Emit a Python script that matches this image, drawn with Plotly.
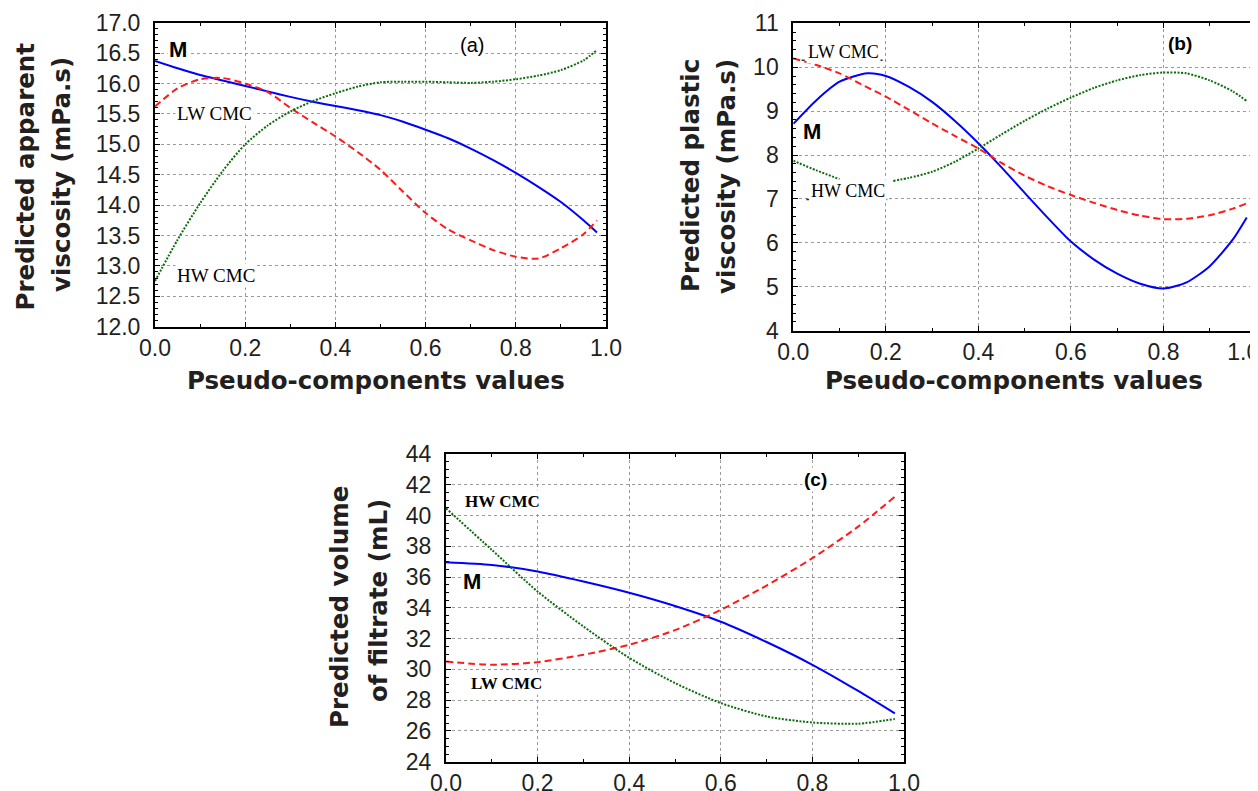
import plotly.graph_objects as go

# page is 1258x791; the browser body adds an 8px margin around the figure div
PAGE_W, PAGE_H = 1258, 791
OFF = 8
W, H = PAGE_W - OFF, PAGE_H - OFF

# ---------------- data ----------------
# Panel (a): predicted apparent viscosity (mPa.s)
a_x = [0.0, 0.05, 0.1, 0.15, 0.2, 0.25, 0.3, 0.35, 0.4, 0.45, 0.5, 0.55, 0.6, 0.65, 0.7, 0.75, 0.8, 0.85, 0.9, 0.95, 0.98]
a_M = [16.37, 16.25, 16.14, 16.05, 15.96, 15.87, 15.78, 15.70, 15.63, 15.56, 15.48, 15.37, 15.24, 15.10, 14.93, 14.74, 14.53, 14.30, 14.05, 13.75, 13.55]
a_LW = [15.62, 15.92, 16.07, 16.09, 16.00, 15.86, 15.60, 15.36, 15.13, 14.87, 14.58, 14.22, 13.87, 13.60, 13.42, 13.26, 13.15, 13.12, 13.29, 13.52, 13.75]
a_HW = [12.75, 13.43, 14.03, 14.56, 15.00, 15.31, 15.54, 15.71, 15.84, 15.95, 16.02, 16.03, 16.03, 16.02, 16.01, 16.03, 16.07, 16.13, 16.22, 16.38, 16.55]

# Panel (b): predicted plastic viscosity (mPa.s)
b_x = [0.0, 0.05, 0.1, 0.16, 0.2, 0.25, 0.3, 0.35, 0.4, 0.45, 0.5, 0.55, 0.6, 0.65, 0.7, 0.75, 0.8, 0.85, 0.9, 0.95, 0.98]
b_M = [8.71, 9.25, 9.67, 9.86, 9.80, 9.55, 9.21, 8.77, 8.27, 7.72, 7.14, 6.57, 6.03, 5.62, 5.30, 5.07, 4.96, 5.10, 5.47, 6.08, 6.58]
b_LW = [10.20, 10.05, 9.86, 9.54, 9.33, 9.03, 8.72, 8.43, 8.15, 7.82, 7.53, 7.29, 7.09, 6.91, 6.75, 6.62, 6.54, 6.55, 6.63, 6.78, 6.90]
b_HW_x = [0.0, 0.05, 0.1, 0.15, 0.216, 0.25, 0.3, 0.35, 0.4, 0.45, 0.5, 0.55, 0.6, 0.65, 0.7, 0.75, 0.8, 0.85, 0.9, 0.95, 0.98]
b_HW = [7.87, 7.65, 7.45, None, 7.41, 7.48, 7.62, 7.85, 8.15, 8.47, 8.78, 9.06, 9.31, 9.53, 9.70, 9.82, 9.88, 9.86, 9.70, 9.45, 9.23]

# Panel (c): predicted volume of filtrate (mL)
c_x = [0.0, 0.1, 0.2, 0.3, 0.4, 0.5, 0.6, 0.7, 0.8, 0.9, 0.98]
c_M = [36.97, 36.79, 36.36, 35.71, 34.98, 34.12, 33.10, 31.78, 30.30, 28.60, 27.14]
c_LW = [30.51, 30.30, 30.47, 30.95, 31.60, 32.55, 33.87, 35.45, 37.23, 39.28, 41.23]
c_HW = [40.47, 37.77, 35.06, 32.79, 30.75, 29.11, 27.81, 26.94, 26.55, 26.47, 26.77]

x_tickvals = [0.0, 0.2, 0.4, 0.6, 0.8, 1.0]
x_ticktext = ["0.0", "0.2", "0.4", "0.6", "0.8", "1.0"]
x_title = "Pseudo-components values"
y_titles = {
    "a": ["Predicted apparent", "viscosity (mPa.s)"],
    "b": ["Predicted plastic", "viscosity (mPa.s)"],
    "c": ["Predicted volume", "of filtrate (mL)"],
}
panel_tags = ["(a)", "(b)", "(c)"]

# ---------------- styles ----------------
BLUE = "#0000ff"
RED = "#ff1a1a"
GREEN = "#0b6e0b"
TXT = "#231f20"
TICKFONT = dict(family="Liberation Sans, Arial, sans-serif", size=23, color=TXT)
TITLEFONT = dict(family="DejaVu Sans, sans-serif", size=24.5, color=TXT)
SERIF = "Liberation Serif, Times New Roman, serif"
SANS = "Liberation Sans, Arial, sans-serif"
NB = "\u00a0"


def px2x(p):
    return (p - OFF) / W


def py2y(p):
    return 1 - (p - OFF) / H


fig = go.Figure()


def add_lines(xs, ys_m, ys_lw, ys_hw, xa, ya, hw_x=None):
    fig.add_trace(go.Scatter(x=xs, y=ys_m, mode="lines",
                             line=dict(color=BLUE, width=2, shape="spline", smoothing=0.7),
                             xaxis=xa, yaxis=ya, showlegend=False, hoverinfo="skip"))
    fig.add_trace(go.Scatter(x=xs, y=ys_lw, mode="lines",
                             line=dict(color=RED, width=2, dash="7px,4px", shape="spline", smoothing=0.7),
                             xaxis=xa, yaxis=ya, showlegend=False, hoverinfo="skip"))
    fig.add_trace(go.Scatter(x=hw_x if hw_x is not None else xs, y=ys_hw, mode="lines",
                             line=dict(color=GREEN, width=2, dash="2px,1.5px", shape="spline", smoothing=0.7),
                             connectgaps=False,
                             xaxis=xa, yaxis=ya, showlegend=False, hoverinfo="skip"))


add_lines(a_x, a_M, a_LW, a_HW, "x", "y")
add_lines(b_x, b_M, b_LW, b_HW, "x2", "y2", hw_x=b_HW_x)
add_lines(c_x, c_M, c_LW, c_HW, "x3", "y3")

# plot-area boxes in page pixels (left, right, top, bottom)
boxes = {
    "a": (155, 606, 22.7, 326.7),
    "b": (793.3, 1256, 23.3, 330.7),
    "c": (446, 904, 454, 761.7),
}


def xaxis_cfg(box, anchor, ticktext):
    l, r, t, b = box
    return dict(domain=[px2x(l), px2x(r)], range=[0, 1], anchor=anchor,
                tickmode="array", tickvals=x_tickvals, ticktext=ticktext,
                ticks="inside", ticklen=5, tickcolor="black", tickwidth=1,
                minor=dict(dtick=0.1, tick0=0, ticks="inside", ticklen=3, tickcolor="black", showgrid=False),
                showline=True, linecolor="black", linewidth=2, mirror="allticks",
                showgrid=True, gridcolor="#9a9a9a", griddash="dot", gridwidth=1,
                zeroline=False, tickfont=TICKFONT, ticklabelstandoff=0, automargin=False,
                ticklabeloverflow="allow", fixedrange=True)


def yaxis_cfg(box, anchor, rng, dt, fmt, mdt):
    l, r, t, b = box
    return dict(domain=[py2y(b), py2y(t)], range=rng, anchor=anchor, dtick=dt, tick0=rng[0],
                tickformat=fmt, ticks="inside", ticklen=5, tickcolor="black", tickwidth=1,
                minor=dict(dtick=mdt, ticks="inside", ticklen=3, tickcolor="black", showgrid=False),
                showline=True, linecolor="black", linewidth=2, mirror="allticks",
                showgrid=True, gridcolor="#9a9a9a", griddash="dot", gridwidth=1,
                zeroline=False, tickfont=TICKFONT, ticklabelstandoff=8, automargin=False,
                ticklabeloverflow="allow", fixedrange=True)


b_ticktext = x_ticktext[:-1] + [x_ticktext[-1] + NB * 4]

fig.update_layout(
    width=W, height=H, autosize=False,
    margin=dict(l=0, r=0, t=0, b=0, pad=0, autoexpand=False),
    paper_bgcolor="white", plot_bgcolor="white",
    font=dict(family=SANS, color=TXT),
    xaxis=xaxis_cfg(boxes["a"], "y", x_ticktext),
    yaxis=yaxis_cfg(boxes["a"], "x", [12, 17], 0.5, ".1f", 0.1),
    xaxis2=xaxis_cfg(boxes["b"], "y2", b_ticktext),
    yaxis2=yaxis_cfg(boxes["b"], "x2", [4, 11], 1, "d", 0.2),
    xaxis3=xaxis_cfg(boxes["c"], "y3", x_ticktext),
    yaxis3=yaxis_cfg(boxes["c"], "x3", [24, 44], 2, "d", 0.5),
)

ann = []

# axis titles (two rotated lines each)
ytitle_pos = {"a": ((25, 176.5), (61, 175)), "b": ((690, 176), (727, 177)), "c": ((339, 607), (378, 601))}
for k, lines in y_titles.items():
    for txt, (xp, yp) in zip(lines, ytitle_pos[k]):
        ann.append(dict(text="<b>" + txt + "</b>", x=px2x(xp), y=py2y(yp), xref="paper", yref="paper",
                        xanchor="center", yanchor="middle", textangle=-90, showarrow=False, font=TITLEFONT))
for xp, yp in [(375.7, 381), (1014, 380)]:
    ann.append(dict(text="<b>" + x_title + "</b>", x=px2x(xp), y=py2y(yp), xref="paper", yref="paper",
                    xanchor="center", yanchor="middle", showarrow=False, font=TITLEFONT))


# curve labels / panel tags
def lab(text, x, y, xr, yr, family, size, bold=False):
    t = "<b>" + text + "</b>" if bold else text
    ann.append(dict(text=t, x=x, y=y, xref=xr, yref=yr, xanchor="center", yanchor="middle",
                    showarrow=False, bgcolor="white", borderpad=1,
                    font=dict(family=family, size=size, color="black")))


lab("M", 0.05, 16.56, "x", "y", SANS, 22, True)
lab("LW CMC", 0.133, 15.50, "x", "y", SERIF, 19)
lab("HW CMC", 0.135, 12.85, "x", "y", SERIF, 19)
lab(panel_tags[0], 0.702, 16.63, "x", "y", SANS, 20)

lab("LW CMC", 0.108, 10.34, "x2", "y2", SERIF, 18)
lab("HW CMC", 0.118, 7.19, "x2", "y2", SERIF, 18)
lab("M", 0.041, 8.53, "x2", "y2", SANS, 22, True)
lab(panel_tags[1], 0.836, 10.53, "x2", "y2", SANS, 19, True)

lab("HW CMC", 0.1235, 40.9, "x3", "y3", SERIF, 17, True)
lab("M", 0.056, 35.7, "x3", "y3", SANS, 22, True)
lab("LW CMC", 0.133, 29.1, "x3", "y3", SERIF, 17, True)
lab(panel_tags[2], 0.807, 42.37, "x3", "y3", SANS, 19, True)

fig.update_layout(annotations=ann)

# dotted underlines below the labels of panel (b)
fig.add_shape(type="line", xref="x2", yref="y2", x0=0.018, x1=0.2, y0=10.16, y1=10.16,
              line=dict(color="#333", width=1.5, dash="dot"))
fig.add_shape(type="line", xref="x2", yref="y2", x0=0.028, x1=0.21, y0=6.99, y1=6.99,
              line=dict(color="#333", width=1.5, dash="dot"))

fig.write_html("out.html")
